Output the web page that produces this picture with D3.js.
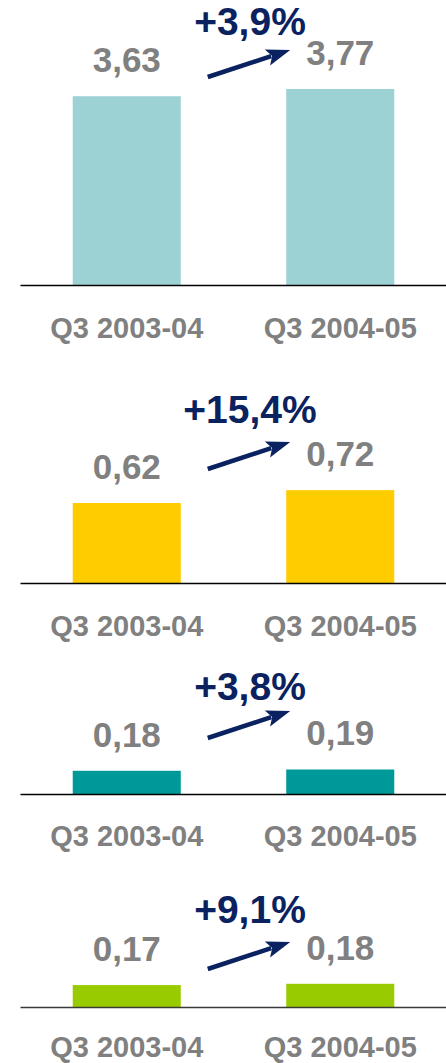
<!DOCTYPE html>
<html lang="en">
<head>
<meta charset="UTF-8">
<title>Q3 comparison</title>
<script src="https://d3js.org/d3.v7.min.js"></script>
<style>
    body { margin: 0; background: #fff; }
    text { font-family: "Liberation Sans", Arial, sans-serif; font-weight: bold; }
</style>
</head>
<body>
<svg id="chart" width="446" height="1063"></svg>
<script>

// data
const categories = ['Q3 2003-04', 'Q3 2004-05'];
const values1 = [3.63, 3.77];
const values2 = [0.62, 0.72];
const values3 = [0.18, 0.19];
const values4 = [0.17, 0.18];
const changes = ['+3,9%', '+15,4%', '+3,8%', '+9,1%'];

// panel layout: baseline, scale top, arrow tip y, colour
const panels = [
    { values: values1, base: 285, domainTop: 4, pxTop: 208, arrowY: 50, pctY: 35, pad: 32, color: '#9dd2d5', axis: '#000' },
    { values: values2, base: 583, domainTop: 1, pxTop: 129, arrowY: 442, pctY: 423, pad: 32, color: '#ffcc00', axis: '#000' },
    { values: values3, base: 794, domainTop: 1, pxTop: 129, arrowY: 711, pctY: 700, pad: 31, color: '#009999', axis: '#000' },
    { values: values4, base: 1007, domainTop: 1, pxTop: 129, arrowY: 942, pctY: 923, pad: 29, color: '#99cc00', axis: '#3a3a3a' }
];

const svg = d3.select('#chart');
const fmt = v => d3.format('.2f')(v).replace('.', ',');

const x = d3.scaleBand()
    .domain(categories)
    .range([20, 447])
    .paddingInner(0.494)
    .paddingOuter(0.247);

panels.forEach((p, i) => {
    const g = svg.append('g');
    const y = d3.scaleLinear().domain([0, p.domainTop]).range([p.base, p.base - p.pxTop]);

    // bars
    g.selectAll('rect')
        .data(p.values)
        .enter()
        .append('rect')
        .attr('x', (d, j) => x(categories[j]))
        .attr('width', x.bandwidth())
        .attr('y', d => y(d))
        .attr('height', d => y(0) - y(d))
        .style('fill', p.color);

    // value labels
    g.selectAll('text.val')
        .data(p.values)
        .enter()
        .append('text')
        .attr('class', 'val')
        .attr('x', (d, j) => x(categories[j]) + x.bandwidth() / 2)
        .attr('y', d => y(d) - 24)
        .attr('text-anchor', 'middle')
        .style('font-size', '35px')
        .style('fill', '#808080')
        .text(d => fmt(d));

    // baseline + category labels
    const axis = g.append('g')
        .attr('transform', `translate(0,${p.base})`)
        .call(d3.axisBottom(x).tickSize(0).tickPadding(p.pad));
    axis.select('.domain').attr('stroke', p.axis).attr('stroke-width', 1.6);
    axis.selectAll('text')
        .attr('font-family', null)
        .style('font-size', '29px')
        .style('fill', '#808080');

    // arrow
    const tip = [x(categories[1]) + 4, p.arrowY];
    const tail = [x(categories[0]) + x.bandwidth() + 27, p.arrowY + 27];
    const dx = tip[0] - tail[0], dy = tip[1] - tail[1];
    const len = Math.hypot(dx, dy);
    const ux = dx / len, uy = dy / len;
    const hl = 24, hw = 8.5;
    const hb = [tip[0] - ux * hl, tip[1] - uy * hl];
    g.append('line')
        .attr('x1', tail[0]).attr('y1', tail[1])
        .attr('x2', hb[0] + ux * 4).attr('y2', hb[1] + uy * 4)
        .attr('stroke', '#0a2260')
        .attr('stroke-width', 4.5);
    g.append('path')
        .attr('d', d3.line()([
            tip,
            [hb[0] - uy * hw, hb[1] + ux * hw],
            [hb[0] + ux * 5, hb[1] + uy * 5],
            [hb[0] + uy * hw, hb[1] - ux * hw]
        ]) + 'Z')
        .style('fill', '#0a2260');

    // change label
    g.append('text')
        .attr('x', 250)
        .attr('y', p.pctY)
        .attr('text-anchor', 'middle')
        .style('font-size', '39px')
        .style('fill', '#0a2260')
        .text(changes[i]);
});

</script>
</body>
</html>
